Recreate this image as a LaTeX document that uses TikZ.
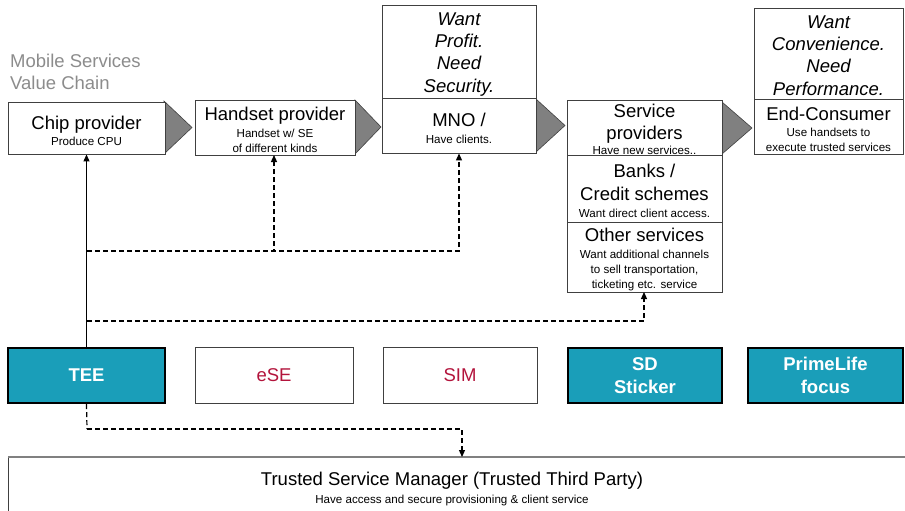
\documentclass[tikz,border=0pt]{standalone}
\usepackage{fontspec}
\setmainfont{Liberation Sans}
\usetikzlibrary{arrows.meta,calc}
\definecolor{boxline}{HTML}{404040}
\definecolor{teal1}{HTML}{1A9EB9}
\definecolor{crim}{HTML}{B3143C}
\definecolor{titlegray}{HTML}{8C8C8C}
\definecolor{trifill}{HTML}{808080}
\newcommand{\bigtxt}{\fontsize{18.5}{22.3}\selectfont}
\newcommand{\smltxt}{\fontsize{11.6}{14.6}\selectfont}
\newcommand{\dn}{\rule{0pt}{18.5pt}}
\tikzset{
  chainbox/.style={draw=boxline,line width=0.9pt,fill=white,inner sep=0pt,align=center,font=\bigtxt},
  tealbox/.style={draw=black,line width=2.2pt,fill=teal1,inner sep=0pt,align=center,text=white,font=\bigtxt\bfseries,minimum height=55pt},
  whitebox/.style={draw=boxline,line width=0.8pt,fill=white,inner sep=0pt,align=center,text=crim,font=\bigtxt,minimum height=56pt},
  chaintri/.style={fill=trifill,draw=boxline,line width=0.6pt},
  dashline/.style={draw=black,line width=1.2pt,dash pattern=on 5pt off 3pt},
  tip/.style={-{Triangle[length=7pt,width=6pt]}}
}
\begin{document}
\begin{tikzpicture}[x=1pt,y=-1pt]
\useasboundingbox (0,0) rectangle (905,511);
% title
\node[anchor=north west,align=left,text=titlegray,font=\bigtxt,inner sep=0pt] (title) at (10,54) {Mobile Services\\Value Chain};
% arrows (triangles)
\draw[chaintri] (164,101) -- (192,127.5) -- (164,154) -- cycle;
\draw[chaintri] (355,100) -- (381,127) -- (355,154) -- cycle;
\draw[chaintri] (536,99) -- (565,125.5) -- (536,152) -- cycle;
\draw[chaintri] (722,102) -- (752,128) -- (722,154) -- cycle;
% value chain boxes
\node[chainbox,minimum width=157pt,minimum height=52pt] (chip) at (86.5,128) {\dn Chip provider\\[-6pt]\smltxt Produce CPU};
\node[chainbox,minimum width=160pt,minimum height=55pt] (handset) at (275,127.5) {\dn Handset provider\\[-5pt]\smltxt Handset w/ SE\\[-7pt]\smltxt of different kinds};
\node[chainbox,minimum width=154pt,minimum height=93pt,font=\bigtxt\itshape] (mnotop) at (459,51.5) {\dn Want\\Profit.\\Need\\Security.};
\node[chainbox,minimum width=154pt,minimum height=55pt] (mno) at (459,125.5) {\dn MNO /\\[-5pt]\smltxt Have clients.};
\node[chainbox,minimum width=155pt,minimum height=67pt] (banks) at (644.5,188.5) {\dn Banks /\\Credit schemes\\[-5pt]\smltxt Want direct client access.};
\node[chainbox,minimum width=155pt,minimum height=70pt] (other) at (644.5,257) {\dn Other services\\[-5pt]\smltxt Want additional channels\\[-7.5pt]\smltxt to sell transportation,\\[-7.5pt]\smltxt ticketing etc. service};
\node[chainbox,minimum width=155pt,minimum height=55pt] (sp) at (644.5,127.5) {\rule{0pt}{16.5pt}Service\\providers\\[-7.5pt]\smltxt Have new services..};
\node[chainbox,minimum width=149pt,minimum height=91pt,font=\bigtxt\itshape] (ectop) at (828.5,53.5) {\rule{0pt}{16.5pt}Want\\Convenience.\\Need\\Performance.};
\node[chainbox,minimum width=149pt,minimum height=55pt] (ec) at (828.5,126.5) {\dn End-Consumer\\[-6pt]\smltxt Use handsets to\\[-7.5pt]\smltxt execute trusted services};
% bottom row
\node[tealbox,minimum width=157pt] (tee) at (86.5,375.5) {TEE};
\node[whitebox,minimum width=158pt] (ese) at (274,375.5) {eSE};
\node[whitebox,minimum width=154pt] (sim) at (460,375.5) {SIM};
\node[tealbox,minimum width=154pt] (sd) at (645,375.5) {SD\\Sticker};
\node[tealbox,minimum width=155pt] (pl) at (825.5,375.5) {PrimeLife\\focus};
% TSM
\node[draw=boxline,line width=0.8pt,fill=white,inner sep=0pt,minimum width=920pt,minimum height=70pt,anchor=north west] (tsm) at (8,457) {};
\draw[trifill,line width=2pt] (tsm.north west) -- (tsm.north east);
\node[align=center,inner sep=0pt,font=\bigtxt] (tsmtext) at (452,489) {Trusted Service Manager (Trusted Third Party)\\[-5pt]\smltxt Have access and secure provisioning \& client service};
% connectors
\coordinate (j1) at (87,251);
\coordinate (j2) at (87,321);
\coordinate (j3) at (87,429);
\coordinate (tsmin) at (462,457);
\draw[line width=1.1pt,tip] (tee.north) -- (tee.north |- chip.south);
\draw[dashline,tip] (j1) -| (274,155);
\draw[dashline,tip] (j1) -| (mno.south);
\draw[dashline,tip] (j2) -| (644,292);
\draw[dashline] (tee.south) -- (j3);
\draw[dashline,tip] (j3) -| (tsmin);
\end{tikzpicture}
\end{document}
